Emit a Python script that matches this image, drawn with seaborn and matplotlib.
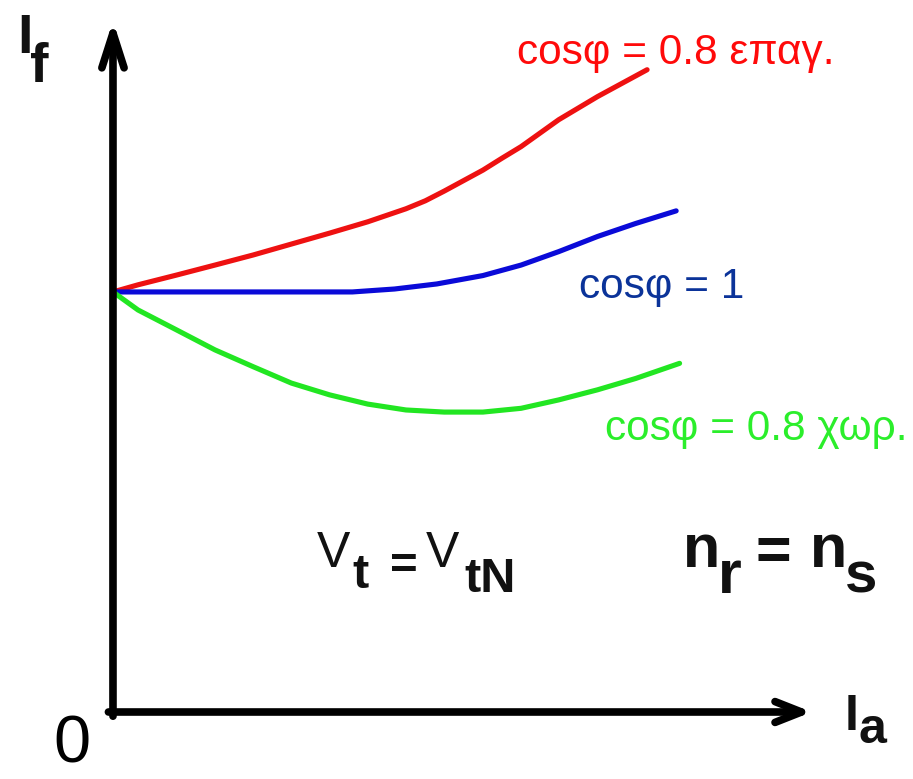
import matplotlib
matplotlib.use("Agg")
import matplotlib.pyplot as plt
import seaborn as sns
import pandas as pd

# Field current I_f versus armature current I_a (relative units, I_f(0) = 100)
ia_lag = [0, 4.4, 11.1, 17.9, 24.6, 31.3, 38.0, 44.7, 51.4, 54.8, 58.1, 61.5, 64.9,
          68.2, 71.6, 74.9, 78.2, 85.0, 93.7]
if_lag = [100, 101.7, 104.0, 106.4, 108.8, 111.4, 114.0, 116.7, 119.8, 121.7, 124.0,
          126.5, 129.0, 131.8, 134.6, 137.8, 141.0, 146.5, 152.9]

ia_unity = [0, 42.0, 49.4, 56.8, 64.9, 71.6, 78.2, 85.0, 91.7, 98.8]
if_unity = [100, 100, 100.7, 101.9, 103.9, 106.4, 109.6, 113.2, 116.3, 119.3]

ia_lead = [0, 4.4, 11.1, 17.9, 24.6, 31.3, 38.0, 44.7, 51.4, 58.1, 64.9, 71.6, 78.2,
           85.0, 91.7, 99.4]
if_lead = [100, 95.7, 91.0, 86.2, 82.2, 78.3, 75.5, 73.3, 71.9, 71.4, 71.4, 72.3, 74.3,
           76.7, 79.4, 83.0]

labels = ["cosφ = 0.8 επαγ.", "cosφ = 1", "cosφ = 0.8 χωρ."]
line_colors = ["#ee1111", "#0a0ad8", "#22e622"]
text_colors = ["#ff0a0a", "#0b3399", "#2bee2b"]

frames = []
for lab, xs, ys in zip(labels, [ia_lag, ia_unity, ia_lead], [if_lag, if_unity, if_lead]):
    frames.append(pd.DataFrame({"Ia": xs, "If": ys, "curve": lab}))
df = pd.concat(frames, ignore_index=True)

sns.set_theme(style="white")
plt.rcParams["font.family"] = ["Liberation Sans", "DejaVu Sans"]

fig = plt.figure(figsize=(9.13, 7.79), dpi=100)
ax = fig.add_axes([0, 0, 1, 1])

sns.lineplot(data=df, x="Ia", y="If", hue="curve", palette=dict(zip(labels, line_colors)),
             linewidth=3.7, legend=False, ax=ax, sort=False)
for line in ax.lines:
    line.set_solid_capstyle("round")
    line.set_solid_joinstyle("round")

ax.set_xlim(-19.82, 140.35)
ax.set_ylim(-15.95, 169.5)
ax.axis("off")

# Coordinate axes drawn as arrows from the origin
ax.annotate("", xy=(122.6, 0), xytext=(-0.8, 0),
            arrowprops=dict(arrowstyle="->,head_length=1.9,head_width=0.75",
                            color="black", lw=5.5, mutation_scale=10,
                            shrinkA=0, shrinkB=0))
ax.annotate("", xy=(0, 164.6), xytext=(0, -1.0),
            arrowprops=dict(arrowstyle="->,head_length=2.5,head_width=0.8",
                            color="black", lw=5.5, mutation_scale=10,
                            shrinkA=0, shrinkB=0))

T = ax.transAxes

# Curve labels
ax.text(0.566, 0.918, labels[0], color=text_colors[0], fontsize=30.5, transform=T,
        ha="left", va="baseline")
ax.text(0.634, 0.617, labels[1], color=text_colors[1], fontsize=30.5, transform=T,
        ha="left", va="baseline")
ax.text(0.663, 0.435, labels[2], color=text_colors[2], fontsize=30.5, transform=T,
        ha="left", va="baseline")

# Axis names and origin
bold = dict(fontweight="bold", color="#111111", transform=T, ha="left", va="baseline")
ax.text(0.019, 0.932, "I", fontsize=40, **bold)
ax.text(0.033, 0.895, "f", fontsize=40, **bold)
ax.text(0.925, 0.063, "I", fontsize=36, **bold)
ax.text(0.940, 0.046, "a", fontsize=36, **bold)
ax.text(0.079, 0.003, "0", fontsize=48, color="black", transform=T,
        ha="center", va="bottom")

# Operating conditions
ax.text(0.347, 0.272, "V", fontsize=36, color="#111111", transform=T,
        ha="left", va="baseline")
ax.text(0.386, 0.245, "t", fontsize=35, **bold)
ax.text(0.442, 0.257, "=", fontsize=34, color="#111111", fontweight="bold",
        transform=T, ha="center", va="baseline")
ax.text(0.466, 0.272, "V", fontsize=36, color="#111111", transform=T,
        ha="left", va="baseline")
ax.text(0.509, 0.240, "tN", fontsize=35, **bold)

ax.text(0.748, 0.272, "n", fontsize=44, **bold)
ax.text(0.786, 0.239, "r", fontsize=44, **bold)
ax.text(0.847, 0.268, "=", fontsize=44, color="#111111", fontweight="bold",
        transform=T, ha="center", va="baseline")
ax.text(0.887, 0.272, "n", fontsize=44, **bold)
ax.text(0.925, 0.240, "s", fontsize=42, **bold)

fig.savefig("out.png", dpi=100, facecolor="white")
